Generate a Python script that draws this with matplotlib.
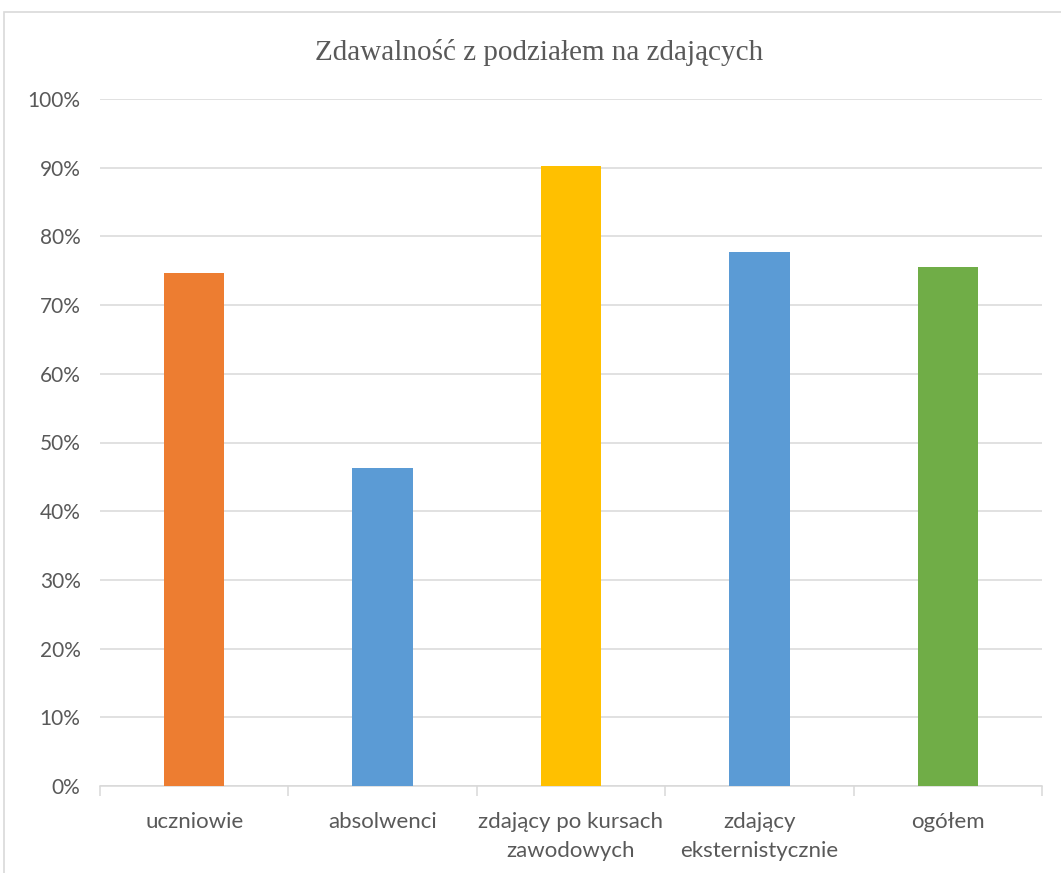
import matplotlib
matplotlib.use("Agg")
import matplotlib.pyplot as plt
from matplotlib.patches import Rectangle
from matplotlib.ticker import PercentFormatter

categories = ["uczniowie", "absolwenci", "zdający po kursach\nzawodowych",
              "zdający\neksternistycznie", "ogółem"]
values = [74.7, 46.3, 90.3, 77.7, 75.5]
colors = ["#ED7D31", "#5B9BD5", "#FFC000", "#5B9BD5", "#70AD47"]
title = "Zdawalność z podziałem na zdających"

W, H = 1061, 873
fig = plt.figure(figsize=(W / 100, H / 100), dpi=100)
fig.patch.set_facecolor("white")

# outer chart frame (cropped at right/bottom)
fig.patches.append(Rectangle((4 / W, -0.05), 1.05, 1 - 12 / H + 0.05,
                             transform=fig.transFigure, fill=False,
                             edgecolor="#d9d9d9", linewidth=1.2))

left, right = 100 / W, 1042 / W
bottom, top = 1 - 786 / H, 1 - 99 / H
ax = fig.add_axes([left, bottom, right - left, top - bottom])

x = range(len(categories))
ax.bar(x, values, width=0.32, color=colors, zorder=3)
ax.set_xlim(-0.5, len(categories) - 0.5)
ax.set_ylim(0, 100)
ax.set_yticks(range(0, 101, 10))
ax.yaxis.set_major_formatter(PercentFormatter(decimals=0))
ax.grid(axis="y", color="#d9d9d9", linewidth=1.1, zorder=0)

for s in ["top", "right", "left"]:
    ax.spines[s].set_visible(False)
ax.spines["bottom"].set_color("#d9d9d9")
ax.spines["bottom"].set_linewidth(1.1)

ax.set_xticks([i + 0.5 for i in range(-1, len(categories))], minor=False)
ax.set_xticklabels([])
ax.tick_params(axis="x", which="major", length=7, color="#d9d9d9", width=1.1)
ax.set_xticks(list(x), minor=True)
ax.set_xticklabels(categories, minor=True, fontsize=16, color="#595959",
                   family="Lato", linespacing=1.55)
ax.tick_params(axis="x", which="minor", length=0, pad=19)
ax.tick_params(axis="y", length=0, pad=14, labelsize=15, labelcolor="#595959")
for lbl in ax.get_yticklabels():
    lbl.set_family("Lato")
for lbl in ax.get_xticklabels(minor=True):
    lbl.set_verticalalignment("top")

fig.text(539 / W, 1 - 52 / H, title, ha="center", va="center",
         family="Liberation Serif", fontsize=21, color="#595959")

fig.savefig("out.png", dpi=100, facecolor="white")
